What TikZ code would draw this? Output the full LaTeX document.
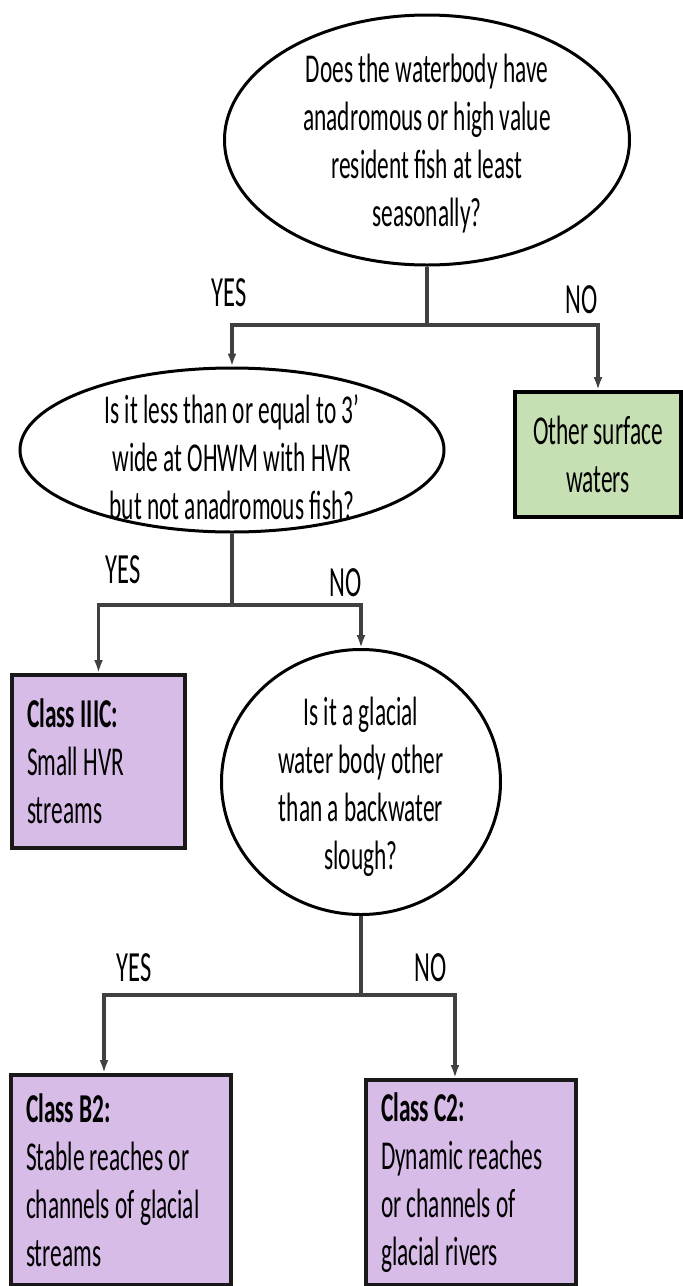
\documentclass[tikz,border=0pt]{standalone}
\usepackage{fontspec}
\setmainfont{Carlito}[FakeStretch=0.57]
\usepackage{xcolor}
\usepackage{tikz}
\usetikzlibrary{calc, positioning, arrows.meta, shapes.geometric}
\definecolor{classpurple}{RGB}{216,188,232}
\definecolor{othergreen}{RGB}{198,224,180}
\newcommand{\bodyfont}{\fontsize{20.5}{24}\selectfont}
\newcommand{\answerfont}{\fontsize{21.5}{24}\selectfont}
\tikzset{
    question/.style={ellipse, draw=black, line width=1.5pt, fill=white, inner sep=0pt},
    qtext/.style={align=center, inner sep=0pt, font=\bodyfont},
    classbox/.style={rectangle, draw=black!90, line width=2pt, fill=classpurple, align=flush left, inner xsep=7.5pt, inner ysep=0pt, font=\bodyfont},
    otherbox/.style={rectangle, draw=black, line width=2pt, fill=othergreen, align=center, inner sep=0pt, font=\bodyfont},
    conn/.style={draw=black!75, line width=1.7pt},
    arrow/.style={conn, -{Latex[length=6.5pt,width=4.5pt]}},
    answer/.style={font=\answerfont, inner sep=0pt}
}

\begin{document}
\begin{tikzpicture}[x=0.5pt, y=-0.5pt]
    \useasboundingbox (0,0) rectangle (683,1286);

    % Questions
    \node[question, minimum width=202.5pt, minimum height=125pt] (fish) at (427,140) {};
    \node[qtext] (fishtext) at (427,144) {Does the waterbody have\\anadromous or high value\\resident fish at least\\seasonally?};
    \node[question, minimum width=212pt, minimum height=82pt] (narrow) at (232,450) {};
    \node[qtext] (narrowtext) at (232,457) {Is it less than or equal to 3'\\wide at OHWM with HVR\\but not anadromous fish?};
    \node[question, minimum width=139.5pt, minimum height=132.5pt] (glacial) at (361,782) {};
    \node[qtext] (glacialtext) at (361,787) {Is it a glacial\\water body other\\than a backwater\\slough?};

    % Outcomes
    \node[otherbox, minimum width=83pt, minimum height=62.5pt] (other) at (598,454.5) {Other surface\\waters};
    \node[classbox, text width=71.5pt, minimum height=86.5pt] (classIIIC) at (98.5,761.5) {\textbf{Class IIIC:}\\Small HVR\\streams};
    \node[classbox, text width=95pt, minimum height=105pt] (classB2) at (121,1180) {\textbf{Class B2:}\\Stable reaches or\\channels of glacial\\streams};
    \node[classbox, text width=90pt, minimum height=102.5pt] (classC2) at (471,1182.5) {\textbf{Class C2:}\\Dynamic reaches\\or channels of\\glacial rivers};

    % Branches
    \coordinate (split1) at (427,325);
    \draw[conn] (fish.south) -- (split1);
    \draw[arrow] (split1) -| (narrow.north);
    \draw[arrow] (split1) -| (other.north);
    \coordinate (split2) at (232,605);
    \draw[conn] (narrow.south) -- (split2);
    \draw[arrow] (split2) -| (classIIIC.north);
    \draw[arrow] (split2) -| (glacial.north);
    \coordinate (split3) at (361,995);
    \draw[conn] (glacial.south) -- (split3);
    \draw[arrow] (split3) -| ($(classB2.north)+(-17,0)$);
    \draw[arrow] (split3) -| ($(classC2.north)+(-16,0)$);

    % Answers
    \node[answer] (yes1) at (229,293) {YES};
    \node[answer] (no1) at (582,300) {NO};
    \node[answer] (yes2) at (123,570) {YES};
    \node[answer] (no2) at (346,583) {NO};
    \node[answer] (yes3) at (134,968) {YES};
    \node[answer] (no3) at (431,968) {NO};
\end{tikzpicture}
\end{document}
